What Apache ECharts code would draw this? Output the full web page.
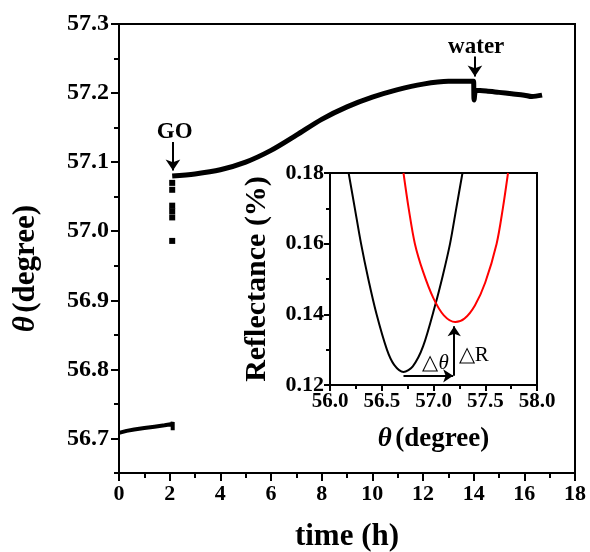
<!DOCTYPE html>
<html><head><meta charset="utf-8">
<script src="https://cdn.jsdelivr.net/npm/echarts@6/dist/echarts.min.js"></script>
<style>html,body{margin:0;padding:0;background:#fff}#c{width:590px;height:552px}</style>
</head><body><div id="c"></div>
<script>
// ---- data ----
const seg1Time = [0, 0.3, 0.6, 1.0, 1.4, 1.8, 2.1, 2.12, 2.12];
const seg1Theta = [56.708, 56.711, 56.713, 56.715, 56.717, 56.719, 56.721, 56.724, 56.712];
const dropTime = [2.1, 2.1, 2.1, 2.1, 2.1, 2.1];
const dropTheta = [57.070, 57.060, 57.037, 57.029, 57.020, 56.986];
const seg2Time = [2.1, 3, 4, 5, 6, 7, 8, 9, 10, 11, 12, 13, 14.0, 14.02, 14.02, 14.1, 14.5, 15, 15.5, 16, 16.3, 16.7];
const seg2Theta = [57.080, 57.083, 57.089, 57.100, 57.117, 57.139, 57.162, 57.180, 57.194, 57.205, 57.213, 57.217, 57.217, 57.217, 57.190, 57.204, 57.203, 57.201, 57.199, 57.197, 57.195, 57.197];
const yTicks = [56.7, 56.8, 56.9, 57.0, 57.1, 57.2, 57.3];
const yMinor = [56.65, 56.75, 56.85, 56.95, 57.05, 57.15, 57.25];
// inset
const blackAngle = [56.18, 56.24, 56.3, 56.37, 56.45, 56.55, 56.62, 56.71, 56.8, 56.9, 57.02, 57.09, 57.16, 57.22, 57.28];
const blackRefl = [0.180, 0.170, 0.160, 0.150, 0.140, 0.130, 0.1257, 0.1237, 0.1253, 0.131, 0.143, 0.151, 0.160, 0.170, 0.180];
const redAngle = [56.71, 56.76, 56.82, 56.9, 57.0, 57.1, 57.21, 57.3, 57.4, 57.5, 57.61, 57.67, 57.72];
const redRefl = [0.180, 0.170, 0.160, 0.152, 0.1445, 0.1397, 0.1378, 0.1388, 0.1425, 0.149, 0.160, 0.170, 0.180];

const zip = (a, b) => a.map((v, i) => [v, b[i]]);
const FONT = '"Liberation Serif","Times New Roman",serif';
const chart = echarts.init(document.getElementById('c'));
const axisLine = {show: true, lineStyle: {color: '#000', width: 2}};
const mkRich = s => ({i: {fontStyle: 'italic', fontWeight: 'bold', fontFamily: FONT, fontSize: s, color: '#000'}, b: {fontWeight: 'bold', fontFamily: FONT, fontSize: s, color: '#000'}});

chart.setOption({
  animation: false,
  backgroundColor: '#fff',
  grid: [
    {left: 119, right: 15, top: 24, bottom: 79, show: true, borderColor: '#000', borderWidth: 2, containLabel: false, outerBoundsMode: 'none'},
    {left: 330, right: 53, top: 173, bottom: 167, show: true, borderColor: '#000', borderWidth: 2, backgroundColor: '#fff', containLabel: false, outerBoundsMode: 'none', z: 5}
  ],
  xAxis: [
    {type: 'value', gridIndex: 0, min: 0, max: 18, interval: 2,
     axisLine, axisTick: {show: true, length: 8, lineStyle: {width: 2, color: '#000'}},
     minorTick: {show: true, splitNumber: 2, length: 5, lineStyle: {width: 2, color: '#000'}},
     splitLine: {show: false}, minorSplitLine: {show: false},
     axisLabel: {color: '#000', fontFamily: FONT, fontWeight: 'bold', fontSize: 22, margin: 10},
     name: 'time (h)', nameLocation: 'middle', nameGap: 48,
     nameTextStyle: {color: '#000', fontFamily: FONT, fontWeight: 'bold', fontSize: 31}},
    {type: 'value', gridIndex: 1, min: 56, max: 58, interval: 0.5,
     axisLine, axisTick: {show: true, length: 6, lineStyle: {width: 2, color: '#000'}},
     minorTick: {show: true, splitNumber: 2, length: 4, lineStyle: {width: 2, color: '#000'}},
     splitLine: {show: false}, minorSplitLine: {show: false},
     axisLabel: {color: '#000', fontFamily: FONT, fontWeight: 'bold', fontSize: 21, margin: 6, formatter: v => v.toFixed(1)},
     name: '{i|θ} {b|(degree)}', nameLocation: 'middle', nameGap: 41,
     nameTextStyle: {rich: mkRich(27)}}
  ],
  yAxis: [
    {type: 'value', gridIndex: 0, min: 56.65, max: 57.3, position: 'left',
     axisLine, axisTick: {show: true, length: 8, customValues: yTicks, lineStyle: {width: 2, color: '#000'}},
     splitLine: {show: false},
     axisLabel: {color: '#000', fontFamily: FONT, fontWeight: 'bold', fontSize: 24, margin: 10, customValues: yTicks, formatter: v => v.toFixed(1)},
     name: '{i|θ} {b|(degree)}', nameLocation: 'middle', nameGap: 78, nameRotate: 90,
     nameTextStyle: {rich: mkRich(31), padding: [0, 40, 0, 0]}},
    {type: 'value', gridIndex: 0, min: 56.65, max: 57.3, position: 'left', offset: 0,
     axisLine: {show: false}, axisTick: {show: true, length: 5, customValues: yMinor, lineStyle: {width: 2, color: '#000'}},
     splitLine: {show: false}, axisLabel: {show: false}},
    {type: 'value', gridIndex: 1, min: 0.12, max: 0.18, interval: 0.02,
     axisLine, axisTick: {show: true, length: 6, lineStyle: {width: 2, color: '#000'}},
     minorTick: {show: true, splitNumber: 2, length: 4, lineStyle: {width: 2, color: '#000'}},
     splitLine: {show: false}, minorSplitLine: {show: false},
     axisLabel: {color: '#000', fontFamily: FONT, fontWeight: 'bold', fontSize: 22, margin: 6, formatter: v => v.toFixed(2)},
     name: 'Reflectance (%)', nameLocation: 'middle', nameGap: 58, nameRotate: 90,
     nameTextStyle: {color: '#000', fontFamily: FONT, fontWeight: 'bold', fontSize: 30}}
  ],
  series: [
    {type: 'line', xAxisIndex: 0, yAxisIndex: 0, data: zip(seg1Time, seg1Theta), symbol: 'none',
     lineStyle: {color: '#000', width: 4}},
    {type: 'scatter', xAxisIndex: 0, yAxisIndex: 0, data: zip(dropTime, dropTheta), symbol: 'rect', symbolSize: 6,
     itemStyle: {color: '#000', opacity: 1}},
    {type: 'line', xAxisIndex: 0, yAxisIndex: 0, data: zip(seg2Time, seg2Theta), symbol: 'none', smooth: 0.3,
     lineStyle: {color: '#000', width: 5},
     markLine: {silent: true, symbol: ['none', 'arrow'], symbolSize: 11, label: {show: false},
       lineStyle: {color: '#000', width: 2, type: 'solid'},
       data: [
         [{coord: [2.13, 57.129]}, {coord: [2.13, 57.088]}],
         [{coord: [14.05, 57.253]}, {coord: [14.05, 57.224]}]
       ]},
     markPoint: {silent: true, symbol: 'circle', symbolSize: 0,
       label: {show: true, position: 'inside', color: '#000', fontFamily: FONT, fontWeight: 'bold', fontSize: 23},
       data: [
         {coord: [2.2, 57.143], value: 'GO', label: {formatter: 'GO'}},
         {coord: [14.1, 57.266], value: 'water', label: {formatter: 'water'}}
       ]}},
    {type: 'line', xAxisIndex: 1, yAxisIndex: 2, data: zip(blackAngle, blackRefl), symbol: 'none', smooth: 0.3, z: 6,
     lineStyle: {color: '#000', width: 2}},
    {type: 'line', xAxisIndex: 1, yAxisIndex: 2, data: zip(redAngle, redRefl), symbol: 'none', smooth: 0.3, z: 6,
     lineStyle: {color: '#ff0000', width: 2},
     markLine: {silent: true, symbol: ['none', 'arrow'], symbolSize: 10, label: {show: false},
       lineStyle: {color: '#000', width: 2, type: 'solid'},
       data: [
         [{coord: [56.71, 0.1226]}, {coord: [57.19, 0.1226]}],
         [{coord: [57.2, 0.1226]}, {coord: [57.2, 0.1366]}]
       ]},
     markPoint: {silent: true, symbol: 'circle', symbolSize: 0,
       label: {show: true, position: 'inside', color: '#000', fontFamily: FONT, fontSize: 21},
       data: [
         {coord: [57.02, 0.1262], value: 'd', label: {formatter: '△{i|θ}', rich: {i: {fontStyle: 'italic', fontFamily: FONT, fontSize: 21, color: '#000'}}}},
         {coord: [57.39, 0.1283], value: 'r', label: {formatter: '△R'}}
       ]}}
  ]
});
</script></body></html>
